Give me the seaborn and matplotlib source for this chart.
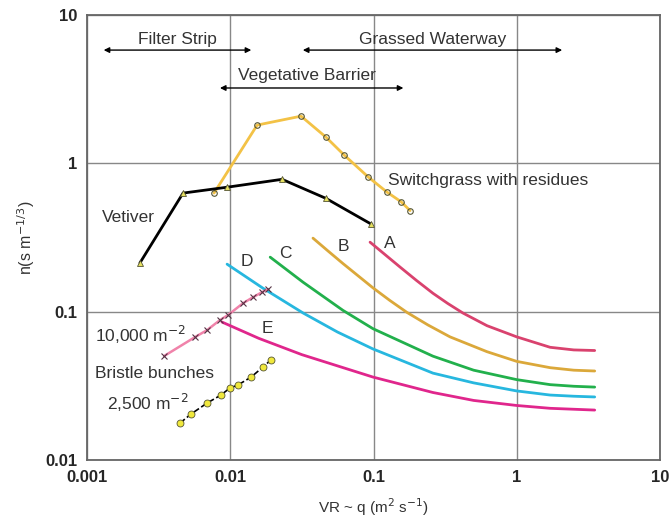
import numpy as np
import pandas as pd
import matplotlib
matplotlib.use("Agg")
import matplotlib.pyplot as plt
import seaborn as sns

# Curvas A-E (VR ~ q, n)
a_x = [0.0946, 0.12, 0.153, 0.2, 0.26, 0.33, 0.42, 0.62, 1.0, 1.71, 2.5, 3.5]
a_n = [0.294, 0.243, 0.200, 0.162, 0.133, 0.1135, 0.098, 0.0804, 0.0676, 0.0575, 0.0552, 0.0547]
b_x = [0.0378, 0.048, 0.0612, 0.0993, 0.13, 0.171, 0.24, 0.342, 0.62, 1.0, 1.71, 2.5, 3.5]
b_n = [0.313, 0.257, 0.211, 0.1445, 0.119, 0.0989, 0.0813, 0.0676, 0.0537, 0.0462, 0.0419, 0.0403, 0.0398]
c_x = [0.019, 0.0322, 0.0612, 0.0993, 0.26, 0.5, 1.0, 1.71, 2.5, 3.5]
c_n = [0.233, 0.158, 0.102, 0.0767, 0.0501, 0.0403, 0.0348, 0.0322, 0.0314, 0.031]
d_x = [0.0095, 0.0169, 0.0322, 0.056, 0.0993, 0.26, 0.5, 1.0, 1.71, 2.5, 3.5]
d_n = [0.209, 0.144, 0.098, 0.0729, 0.056, 0.0385, 0.0331, 0.0292, 0.0274, 0.0269, 0.0266]
e_x = [0.00875, 0.0158, 0.0316, 0.0993, 0.26, 0.5, 1.0, 1.71, 3.5]
e_n = [0.0851, 0.0661, 0.0513, 0.0362, 0.0285, 0.0252, 0.0233, 0.0223, 0.0217]

# Vetiver y switchgrass
vet_x = [0.00234, 0.00468, 0.0095, 0.023, 0.0466, 0.096]
vet_n = [0.213, 0.63, 0.69, 0.78, 0.58, 0.39]
sw_x = [0.0077, 0.0154, 0.0312, 0.0466, 0.0622, 0.0917, 0.124, 0.156, 0.18]
sw_n = [0.63, 1.81, 2.08, 1.50, 1.14, 0.81, 0.64, 0.55, 0.48]

# Bristle bunches
b10k_x = [0.00345, 0.00568, 0.00689, 0.00848, 0.00964, 0.01227, 0.0144, 0.0167, 0.0184]
b10k_n = [0.0502, 0.0674, 0.0751, 0.0878, 0.0948, 0.114, 0.125, 0.1355, 0.142]
b2500_x = [0.00446, 0.00532, 0.00689, 0.00861, 0.00995, 0.0113, 0.01397, 0.0169, 0.0192]
b2500_n = [0.01774, 0.0204, 0.0242, 0.0274, 0.0306, 0.032, 0.0362, 0.0423, 0.0472]

ticks = [0.001, 0.01, 0.1, 1, 10]
xtick_labels = ["0.001", "0.01", "0.1", "1", "10"]
yticks = [0.01, 0.1, 1, 10]
ytick_labels = ["0.01", "0.1", "1", "10"]

sns.set_style("white")
plt.rcParams['font.family'] = ['Liberation Sans', 'DejaVu Sans']
plt.rcParams['lines.solid_joinstyle'] = 'round'
plt.rcParams['lines.solid_capstyle'] = 'round'

fig = plt.figure(figsize=(6.71, 5.17), dpi=100)
ax = fig.add_axes([0.1297, 0.1103, 0.8539, 0.8607])

curvas = [
    (a_x, a_n, "#d9426e"),
    (b_x, b_n, "#dba83a"),
    (c_x, c_n, "#22b04c"),
    (d_x, d_n, "#27b7df"),
    (e_x, e_n, "#e0268c"),
]
for xs, ns, col in curvas:
    sns.lineplot(x=xs, y=ns, color=col, lw=2, ax=ax, estimator=None)

sns.lineplot(x=sw_x, y=sw_n, color="#f3c246", lw=2, ax=ax, estimator=None,
             marker="o", markersize=4, markerfacecolor="none",
             markeredgecolor="#555533", markeredgewidth=0.8)
sns.lineplot(x=vet_x, y=vet_n, color="black", lw=2, ax=ax, estimator=None,
             marker="^", markersize=5, markerfacecolor="#e6e060",
             markeredgecolor="#555533", markeredgewidth=0.6)
sns.lineplot(x=b10k_x, y=b10k_n, color="#f083aa", lw=1.8, ax=ax, estimator=None,
             marker="x", markersize=4, markeredgecolor="#553344", markeredgewidth=0.8)
sns.lineplot(x=b2500_x, y=b2500_n, color="black", lw=1.2, ax=ax, estimator=None,
             linestyle="--", marker="o", markersize=5, markerfacecolor="#f0e83c",
             markeredgecolor="#555533", markeredgewidth=0.6)

ax.set_xscale("log")
ax.set_yscale("log")
ax.set_xlim(0.001, 10)
ax.set_ylim(0.01, 10)
ax.set_xticks(ticks)
ax.set_xticklabels(xtick_labels, fontweight="bold", fontsize=12)
ax.set_yticks(yticks)
ax.set_yticklabels(ytick_labels, fontweight="bold", fontsize=12)
ax.minorticks_off()
ax.tick_params(length=0, pad=7)
ax.grid(True, which="major", color="#888888", lw=1)
ax.set_axisbelow(True)
for s in ax.spines.values():
    s.set_color("#666666")
    s.set_linewidth(1.3)

ax.set_xlabel(r"VR ~ q (m$^2$ s$^{-1}$)", fontsize=11, color="#333333", labelpad=8)
ax.set_ylabel(r"n(s m$^{-1/3}$)", fontsize=11.5, color="#333333", labelpad=6)

# Flechas de rango
flecha = dict(arrowstyle="<|-|>", color="black", lw=1, mutation_scale=8)
ax.annotate("", xy=(0.00125, 5.8), xytext=(0.01466, 5.8), arrowprops=flecha)
ax.annotate("", xy=(0.0307, 5.8), xytext=(2.17, 5.8), arrowprops=flecha)
ax.annotate("", xy=(0.0081, 3.22), xytext=(0.169, 3.22), arrowprops=flecha)
fs = 12.5
ax.text(0.00425, 6.8, "Filter Strip", ha="center", va="center", fontsize=fs, color="#333333")
ax.text(0.26, 6.8, "Grassed Waterway", ha="center", va="center", fontsize=fs, color="#333333")
ax.text(0.0344, 3.88, "Vegetative Barrier", ha="center", va="center", fontsize=fs, color="#333333")

ax.text(0.126, 0.77, "Switchgrass with residues", ha="left", va="center", fontsize=fs, color="#333333")
ax.text(0.00127, 0.43, "Vetiver", ha="left", va="center", fontsize=fs, color="#333333")
for lab, lx, ly in [("A", 0.130, 0.29), ("B", 0.0612, 0.273), ("C", 0.0241, 0.248),
                    ("D", 0.0131, 0.219), ("E", 0.0181, 0.0775)]:
    ax.text(lx, ly, lab, ha="center", va="center", fontsize=fs, color="#333333")
ax.text(0.00114, 0.0695, r"10,000 m$^{-2}$", ha="left", va="center", fontsize=fs, color="#333333")
ax.text(0.00114, 0.0385, "Bristle bunches", ha="left", va="center", fontsize=fs, color="#333333")
ax.text(0.00138, 0.0242, r"2,500 m$^{-2}$", ha="left", va="center", fontsize=fs, color="#333333")

fig.savefig("out.png", dpi=100)
